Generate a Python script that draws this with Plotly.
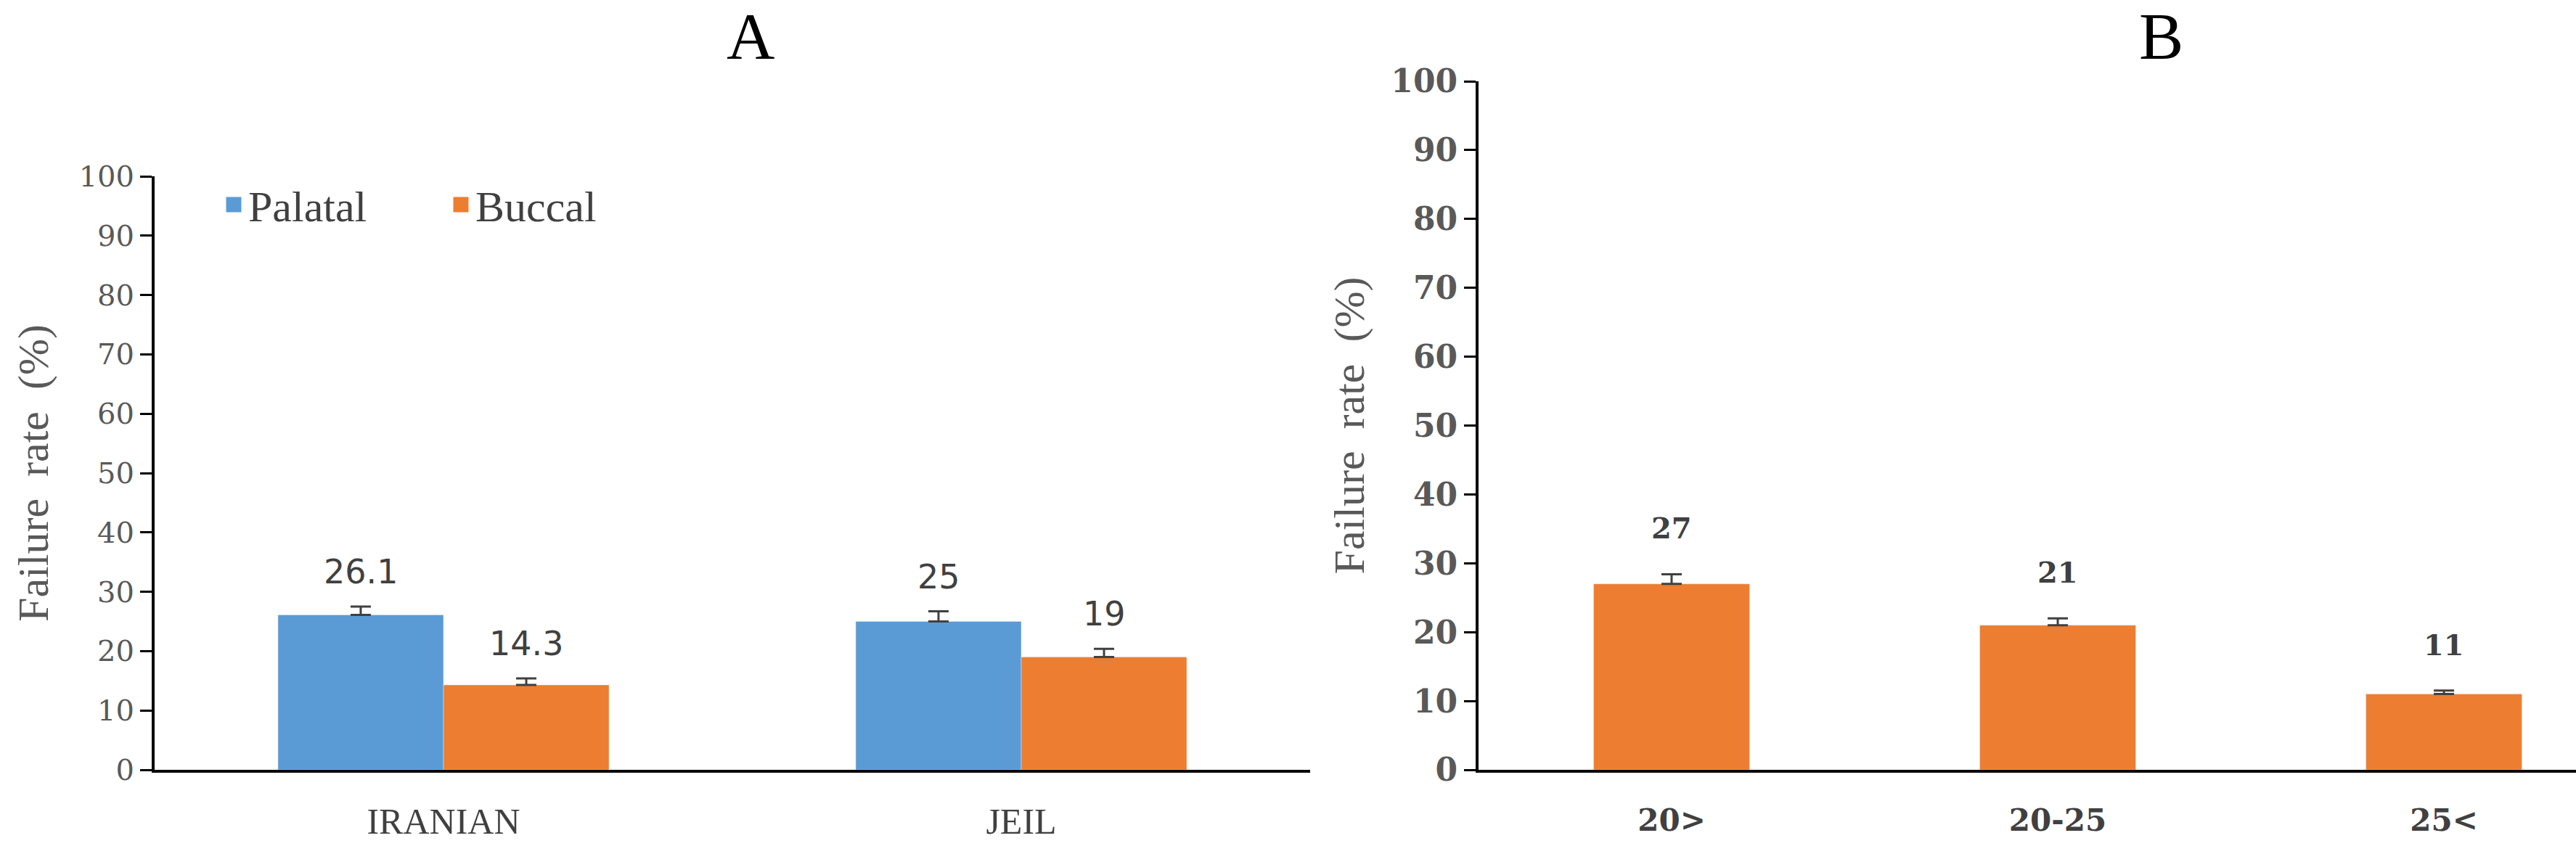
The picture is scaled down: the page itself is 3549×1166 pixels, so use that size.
import plotly.graph_objects as go

# ---- data ----
groups_a = ["IRANIAN", "JEIL"]
palatal = [26.1, 25]
palatal_err = [1.4, 1.7]
buccal = [14.3, 19]
buccal_err = [1.1, 1.4]

groups_b = ["20>", "20-25", "25<"]
age_rate = [27, 21, 11]
age_err = [1.4, 1.0, 0.5]

y_ticks = list(range(0, 101, 10))

BLUE = "#5B9BD5"
ORANGE = "#ED7D31"
TXT = "#404040"
GRAY = "#595959"

W, H = 3549, 1166
fig = go.Figure()

err_style = dict(type="data", symmetric=False, color=TXT, thickness=3, width=14)

fig.add_trace(go.Bar(x=groups_a, y=palatal, name="Palatal", marker_color=BLUE,
                     error_y=dict(array=palatal_err, arrayminus=[0]*len(palatal), **err_style),
                     xaxis="x", yaxis="y", showlegend=False))
fig.add_trace(go.Bar(x=groups_a, y=buccal, name="Buccal", marker_color=ORANGE,
                     error_y=dict(array=buccal_err, arrayminus=[0]*len(buccal), **err_style),
                     xaxis="x", yaxis="y", showlegend=False))
fig.add_trace(go.Bar(x=groups_b, y=age_rate, name="Age", marker_color=ORANGE, width=0.404,
                     error_y=dict(array=age_err, arrayminus=[0]*len(age_rate), **err_style),
                     xaxis="x2", yaxis="y2", showlegend=False))

# legend entries (larger square symbols)
for nm, col in [("Palatal", BLUE), ("Buccal", ORANGE)]:
    fig.add_trace(go.Scatter(x=[None], y=[None], mode="markers", name=nm,
                             marker=dict(symbol="square", size=16, color=col,
                                         line=dict(color=col, width=5)),
                             xaxis="x", yaxis="y", showlegend=True))

# data labels
bar_half_px = 114
ann = []
for i, g in enumerate(groups_a):
    for vals, errs, sh in [(palatal, palatal_err, -bar_half_px), (buccal, buccal_err, bar_half_px)]:
        ann.append(dict(x=g, y=vals[i] + errs[i], xref="x", yref="y", text=f"{vals[i]:g}",
                        showarrow=False, yanchor="bottom", xshift=sh, yshift=19,
                        font=dict(family="DejaVu Sans", size=46, color=TXT)))
for i, g in enumerate(groups_b):
    ann.append(dict(x=g, y=age_rate[i] + age_err[i], xref="x2", yref="y2", text=f"{age_rate[i]:g}",
                    showarrow=False, yanchor="bottom", yshift=38,
                    font=dict(family="DejaVu Serif", size=40, color=TXT, weight="bold")))

# panel titles
ann.append(dict(x=999 / W, y=1 - 50 / H, xref="paper", yref="paper", text="A", showarrow=False,
                yanchor="middle", font=dict(family="Liberation Serif", size=92, color="black")))
ann.append(dict(x=3010 / W, y=1 - 50 / H, xref="paper", yref="paper", text="B", showarrow=False,
                yanchor="middle", font=dict(family="Liberation Serif", size=92, color="black")))

ytitle = "Failure\u00a0\u00a0rate\u00a0\u00a0(%)"

common_y = dict(range=[0, 100], tickvals=y_ticks, showline=True, linecolor="black", linewidth=4,
                ticks="outside", ticklen=16, tickwidth=3, tickcolor="black", showgrid=False,
                zeroline=False, fixedrange=True, automargin=False)
common_x = dict(showline=True, linecolor="black", linewidth=4, ticks="", showgrid=False,
                zeroline=False, automargin=False)

fig.update_layout(
    width=W, height=H, margin=dict(l=0, r=0, t=0, b=0, autoexpand=False),
    paper_bgcolor="white", plot_bgcolor="white",
    barmode="group", bargap=0.427, bargroupgap=0,
    xaxis=dict(domain=[213 / W, 1805 / W], anchor="y", ticklabelstandoff=24,
               tickfont=dict(family="Liberation Serif", size=50, color=TXT), **common_x),
    yaxis=dict(domain=[105 / H, 923 / H], anchor="x",
               tickfont=dict(family="DejaVu Serif", size=40, color=GRAY),
               title=dict(text=ytitle, standoff=24,
                          font=dict(family="Liberation Serif", size=60, color=GRAY)),
               **common_y),
    xaxis2=dict(domain=[2037 / W, 1.0], anchor="y2", range=[-0.5, 2.342], ticklabelstandoff=30,
                tickfont=dict(family="DejaVu Serif", size=42, color=TXT, weight="bold"), **common_x),
    yaxis2=dict(domain=[105 / H, 1054 / H], anchor="x2",
                tickfont=dict(family="DejaVu Serif", size=44, color=GRAY, weight="bold"),
                title=dict(text=ytitle, standoff=18,
                           font=dict(family="Liberation Serif", size=60, color=GRAY)),
                **common_y),
    legend=dict(orientation="h", x=302 / W, y=1 - 282 / H, xanchor="left", yanchor="middle",
                font=dict(family="Liberation Serif", size=60, color=TXT),
                bgcolor="rgba(0,0,0,0)", itemwidth=30, entrywidth=268, entrywidthmode="pixels"),
    annotations=ann,
)

fig.write_html("out.html", config={"displayModeBar": False})
